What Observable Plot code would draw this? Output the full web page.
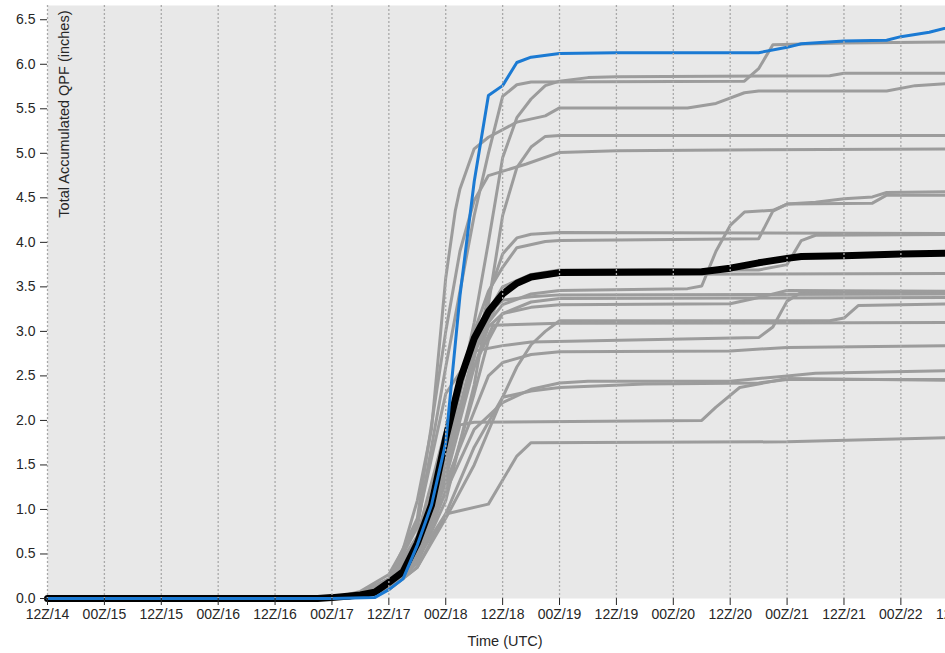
<!DOCTYPE html>
<html>
<head>
<meta charset="utf-8">
<script src="https://cdn.jsdelivr.net/npm/d3@7"></script>
<script src="https://cdn.jsdelivr.net/npm/@observablehq/plot@0.6"></script>
<style>
html, body { margin: 0; padding: 0; background: #fff; overflow: hidden; }
#chart svg { display: block; max-width: none !important; width: 962px; height: 653px; }
</style>
</head>
<body>
<div id="chart"></div>
<script>
// Hours since 12Z/14 for each axis tick and their labels
const tickHours = [0, 12, 24, 36, 48, 60, 72, 84, 96, 108, 120, 132, 144, 156, 168, 180, 192];
const tickLabels = ["12Z/14", "00Z/15", "12Z/15", "00Z/16", "12Z/16", "00Z/17", "12Z/17", "00Z/18",
  "12Z/18", "00Z/19", "12Z/19", "00Z/20", "12Z/20", "00Z/21", "12Z/21", "00Z/22", "12Z/22"];
const yTicks = [0, 0.5, 1, 1.5, 2, 2.5, 3, 3.5, 4, 4.5, 5, 5.5, 6, 6.5];

// Ensemble members: [hour, accumulated QPF (in)]
const memA = [[0,0],[60,0],[66,0.05],[72,0.2],[78,0.8],[84,2.6],[90,4.3],[93,5.0],[96,5.64],[99,5.77],[102,5.8],[147,5.81],[150,5.95],[153,6.22],[168,6.24],[192,6.25]];
const memB = [[0,0],[61,0],[66,0.04],[72,0.15],[78,0.6],[84,1.6],[90,3.1],[93,4.0],[96,4.95],[99,5.4],[102,5.61],[105,5.76],[108,5.81],[114,5.85],[120,5.86],[165,5.87],[168,5.9],[192,5.9]];
const memC = [[0,0],[60,0],[66,0.08],[72,0.27],[75,0.55],[78,1.1],[81,1.9],[84,3.6],[86,4.35],[87,4.6],[90,5.05],[93,5.18],[99,5.35],[105,5.42],[108,5.51],[135,5.51],[141,5.56],[147,5.68],[150,5.7],[177,5.7],[183,5.76],[192,5.79]];
const memD = [[0,0],[62,0],[66,0.03],[72,0.12],[78,0.4],[84,1.1],[90,2.4],[93,3.3],[96,4.3],[99,4.84],[102,5.07],[105,5.19],[108,5.2],[192,5.2]];
const memE = [[0,0],[60,0],[66,0.06],[72,0.22],[78,0.9],[84,3.0],[87,3.9],[90,4.47],[93,4.75],[101,4.88],[108,5.01],[120,5.03],[192,5.05]];
const memF = [[0,0],[61,0],[66,0.05],[72,0.2],[78,0.7],[84,1.9],[90,2.9],[96,3.3],[102,3.42],[108,3.46],[135,3.48],[138,3.51],[141,3.9],[144,4.19],[147,4.34],[153,4.36],[156,4.43],[162,4.45],[168,4.49],[174,4.51],[177,4.56],[192,4.57]];
const memG = [[0,0],[62,0],[66,0.04],[72,0.15],[78,0.55],[84,1.6],[90,3.0],[93,3.45],[96,3.72],[99,3.94],[105,4.01],[108,4.02],[150,4.04],[153,4.35],[156,4.43],[174,4.44],[177,4.53],[192,4.53]];
const memH = [[0,0],[61,0],[66,0.05],[72,0.18],[78,0.6],[84,1.5],[90,2.7],[93,3.4],[96,3.87],[99,4.05],[102,4.09],[108,4.11],[192,4.1]];
const memI = [[0,0],[62,0],[66,0.04],[72,0.16],[78,0.55],[84,1.7],[90,2.95],[96,3.5],[102,3.64],[108,3.69],[150,3.69],[156,3.75],[159,4.02],[162,4.08],[192,4.09]];
const memJ = [[0,0],[63,0],[66,0.03],[72,0.12],[78,0.45],[84,1.4],[90,2.75],[96,3.45],[102,3.6],[108,3.64],[192,3.65]];
const memK = [[0,0],[63,0],[66,0.03],[72,0.1],[78,0.35],[84,0.95],[90,1.7],[96,2.26],[99,2.6],[102,2.85],[105,3.0],[108,3.12],[165,3.12],[168,3.15],[171,3.29],[192,3.31]];
const memL = [[0,0],[61,0],[66,0.06],[72,0.22],[78,0.85],[84,2.3],[90,2.78],[96,2.84],[102,2.88],[150,2.93],[153,3.05],[156,3.34],[159,3.44],[192,3.44]];
const memM = [[0,0],[63,0],[66,0.03],[72,0.12],[78,0.45],[84,1.3],[90,2.1],[93,2.5],[96,2.65],[102,2.74],[108,2.77],[144,2.78],[156,2.82],[192,2.84]];
const memN = [[0,0],[62,0],[66,0.04],[72,0.14],[78,0.5],[84,1.2],[90,1.9],[96,2.2],[102,2.35],[108,2.42],[114,2.44],[144,2.44],[150,2.47],[156,2.5],[162,2.53],[192,2.56]];
const memO = [[0,0],[63,0],[66,0.03],[72,0.1],[78,0.35],[84,0.9],[90,1.5],[96,2.26],[102,2.33],[108,2.37],[126,2.41],[150,2.42],[153,2.44],[156,2.46],[192,2.46]];
const memP = [[0,0],[61,0],[66,0.05],[72,0.16],[78,0.55],[84,1.35],[87,1.95],[90,1.98],[138,2.0],[141,2.15],[146,2.37],[156,2.47],[192,2.45]];
const memQ = [[0,0],[63,0],[66,0.03],[72,0.1],[78,0.45],[84,0.95],[93,1.06],[99,1.6],[102,1.75],[156,1.76],[192,1.81]];
const memR = [[0,0],[62,0],[66,0.05],[72,0.18],[78,0.65],[84,1.7],[90,2.6],[94,3.07],[108,3.09],[192,3.1]];
const memS = [[0,0],[62,0],[66,0.04],[72,0.14],[78,0.5],[84,1.4],[90,2.6],[93,3.05],[96,3.2],[102,3.27],[108,3.3],[144,3.31],[150,3.38],[156,3.46],[192,3.45]];
const memT1 = [[0,0],[62,0],[66,0.04],[72,0.15],[78,0.5],[84,1.5],[90,2.8],[93,3.2],[96,3.35],[102,3.39],[108,3.41],[192,3.42]];
const memT2 = [[0,0],[63,0],[66,0.03],[72,0.1],[78,0.4],[84,1.2],[90,2.3],[93,2.9],[96,3.2],[102,3.33],[108,3.37],[192,3.38]];

// Ensemble mean (black) and highlighted run (blue)
const meanSeries = [[0,0],[57,0],[60,0.01],[66,0.04],[69,0.07],[72,0.18],[75,0.3],[78,0.62],[81,1.05],[84,1.8],[87,2.45],[90,2.92],[93,3.22],[96,3.42],[99,3.54],[102,3.61],[108,3.66],[138,3.67],[144,3.71],[150,3.77],[156,3.82],[159,3.84],[168,3.85],[180,3.87],[192,3.88]];
const blueSeries = [[0,0],[60,0],[69,0.01],[72,0.1],[75,0.22],[78,0.6],[81,1.05],[84,1.75],[87,3.4],[90,4.68],[93,5.65],[96,5.76],[99,6.02],[102,6.08],[108,6.12],[120,6.13],[150,6.13],[156,6.19],[159,6.23],[168,6.26],[177,6.27],[180,6.31],[186,6.36],[192,6.44]];

const members = [memA, memB, memC, memD, memE, memF, memG, memH, memI, memJ, memK, memL, memM, memN, memO, memP, memQ, memR, memS, memT1, memT2];
const memberRows = members.flatMap((s, i) => s.map(([h, v]) => ({member: i, h, v})));
const meanRows = meanSeries.map(([h, v]) => ({h, v}));
const blueRows = blueSeries.map(([h, v]) => ({h, v}));

const fontFamily = "'Liberation Sans', Arial, Helvetica, sans-serif";

const chart = Plot.plot({
  width: 962,
  height: 653,
  marginTop: 5,
  marginBottom: 55,
  marginLeft: 47,
  marginRight: 0,
  style: {fontFamily, fontSize: "14px", color: "#262626", background: "transparent", maxWidth: "none"},
  x: {domain: [0, 193], label: null},
  y: {domain: [0, 6.66], label: null},
  marks: [
    Plot.frame({fill: "#e8e8e8", stroke: "none"}),
    Plot.line(memberRows, {x: "h", y: "v", z: "member", stroke: "#9c9c9c", strokeWidth: 3, strokeLinejoin: "round"}),
    Plot.line(meanRows, {x: "h", y: "v", stroke: "#000", strokeWidth: 7, strokeLinejoin: "round"}),
    Plot.line(blueRows, {x: "h", y: "v", stroke: "#1b7ad3", strokeWidth: 3, strokeLinejoin: "round"}),
    Plot.ruleX(tickHours, {stroke: "#a9a9a9", strokeWidth: 1.3, strokeDasharray: "2,2"}),
    Plot.axisX({ticks: tickHours, tickFormat: (h) => tickLabels[tickHours.indexOf(h)], tickSize: 7, tickPadding: 4, label: null, fontSize: 14}),
    Plot.axisY({ticks: yTicks, tickFormat: (d) => d.toFixed(1), tickSize: 7, tickPadding: 5, label: null, fontSize: 14}),
    Plot.text(["Total Accumulated QPF (inches)"], {frameAnchor: "top-left", rotate: -90, textAnchor: "end", lineAnchor: "middle", dx: 16.5, dy: 5, fontSize: 14.5, fill: "#262626"}),
    Plot.text(["Time (UTC)"], {frameAnchor: "bottom", lineAnchor: "middle", dy: 43, fontSize: 14.5, fill: "#262626"})
  ]
});
document.getElementById("chart").append(chart);
</script>
</body>
</html>
